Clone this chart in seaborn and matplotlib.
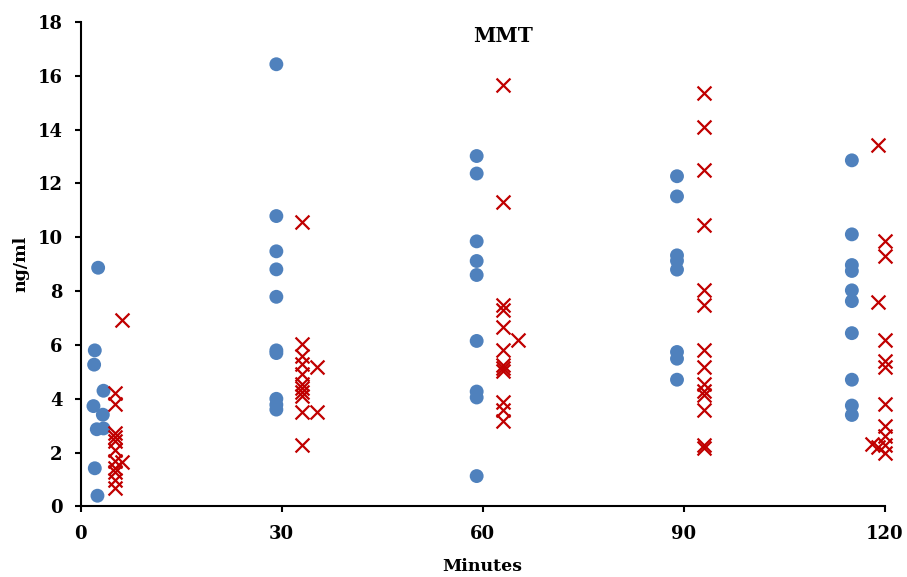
import matplotlib
matplotlib.use("Agg")
import matplotlib.pyplot as plt
import seaborn as sns
import pandas as pd

# Blue series (circles)
blue_x = [2.6, 2.1, 2.0, 3.4, 1.9, 3.3, 2.4, 3.4, 2.1, 2.5,
          29.2, 29.2, 29.2, 29.2, 29.2, 29.2, 29.2, 29.2, 29.2, 29.2,
          59.1, 59.1, 59.1, 59.1, 59.1, 59.1, 59.1, 59.1, 59.1,
          89.0, 89.0, 89.0, 89.0, 89.0, 89.0, 89.0, 89.0,
          115.1, 115.1, 115.1, 115.1, 115.1, 115.1, 115.1, 115.1, 115.1, 115.1]
blue_y = [8.87, 5.8, 5.27, 4.3, 3.73, 3.41, 2.87, 2.9, 1.42, 0.4,
          16.43, 10.79, 9.48, 8.81, 7.79, 5.8, 5.7, 4.0, 3.78, 3.6,
          13.02, 12.37, 9.85, 9.12, 8.6, 6.15, 4.27, 4.05, 1.13,
          12.27, 11.52, 9.33, 9.13, 8.8, 5.74, 5.49, 4.71,
          12.86, 10.11, 8.97, 8.75, 8.03, 7.63, 6.44, 4.71, 3.75, 3.4]

# Red series (crosses)
red_x = [6.2, 5.1, 5.1, 5.1, 5.1, 5.1, 5.1, 5.1, 5.1, 5.1, 5.1, 5.1, 6.2,
         33.1, 33.1, 33.1, 33.1, 33.1, 33.1, 33.1, 33.1, 33.1, 33.1, 33.1, 35.2, 35.2,
         63.1, 63.1, 63.1, 63.1, 63.1, 63.1, 63.1, 63.1, 63.1, 63.1, 63.1, 63.1, 65.2,
         93.0, 93.0, 93.0, 93.0, 93.0, 93.0, 93.0, 93.0, 93.0, 93.0, 93.0, 93.0, 93.0, 93.0,
         119.0, 119.0, 119.0, 120.0, 120.0, 120.0, 120.0, 120.0, 120.0, 120.0, 120.0, 120.0, 120.0, 118.1]
red_y = [6.94, 4.23, 3.79, 2.72, 2.58, 2.45, 2.1, 1.7, 1.42, 1.28, 0.97, 0.7, 1.67,
         10.57, 6.05, 5.6, 5.3, 4.93, 4.56, 4.4, 4.25, 4.1, 3.5, 2.27, 5.18, 3.5,
         15.65, 11.33, 7.5, 7.3, 6.68, 5.83, 5.27, 5.14, 5.02, 3.9, 3.6, 3.18, 6.17,
         15.38, 14.1, 12.49, 10.46, 8.04, 7.47, 5.8, 5.2, 4.56, 4.3, 4.13, 3.58, 2.3, 2.17,
         13.42, 7.6, 2.22, 9.88, 9.32, 6.17, 5.4, 5.17, 3.82, 3.0, 2.62, 2.27, 1.98, 2.33]

x_ticks = [0, 30, 60, 90, 120]
y_ticks = [0, 2, 4, 6, 8, 10, 12, 14, 16, 18]
title = "MMT"
xlabel = "Minutes"
ylabel = "ng/ml"

sns.set_theme(style="white")
plt.rcParams['font.family'] = ['DejaVu Serif']
plt.rcParams['font.weight'] = 'bold'
plt.rcParams['text.color'] = 'black'
plt.rcParams['axes.labelcolor'] = 'black'
plt.rcParams['xtick.color'] = 'black'
plt.rcParams['ytick.color'] = 'black'

fig = plt.figure(figsize=(9.07, 5.77), dpi=100)
ax = fig.add_axes([0.089, 0.1222, 0.8864, 0.8397])

df_b = pd.DataFrame({"x": blue_x, "y": blue_y})
df_r = pd.DataFrame({"x": red_x, "y": red_y})

sns.scatterplot(data=df_b, x="x", y="y", ax=ax, marker="o", s=100,
                color="#4F81BD", edgecolor="none", linewidth=0, clip_on=False, zorder=3)
sns.scatterplot(data=df_r, x="x", y="y", ax=ax, marker="x", s=100,
                color="#C00000", linewidth=1.6, clip_on=False, zorder=4)

ax.set_xlim(0, 120)
ax.set_ylim(0, 18)
ax.set_xticks(x_ticks)
ax.set_yticks(y_ticks)
ax.set_xticklabels([str(t) for t in x_ticks], fontsize=13, fontweight='bold')
ax.set_yticklabels([str(t) for t in y_ticks], fontsize=13, fontweight='bold')

for side in ["top", "right"]:
    ax.spines[side].set_visible(False)
for side in ["left", "bottom"]:
    ax.spines[side].set_color("black")
    ax.spines[side].set_linewidth(1.5)

ax.tick_params(axis="both", direction="out", length=4, width=1.5, color="black",
               labelcolor="black", bottom=True, left=True, pad=9)

ax.set_xlabel(xlabel, fontsize=12.5, fontweight='bold', labelpad=11, color="black")
ax.set_ylabel(ylabel, fontsize=12.5, fontweight='bold', labelpad=6, color="black")
fig.text(503 / 907, 1 - 36 / 577, title, ha="center", va="center",
         fontsize=14.5, fontweight='bold', color="black")

fig.savefig("out.png", dpi=100)
